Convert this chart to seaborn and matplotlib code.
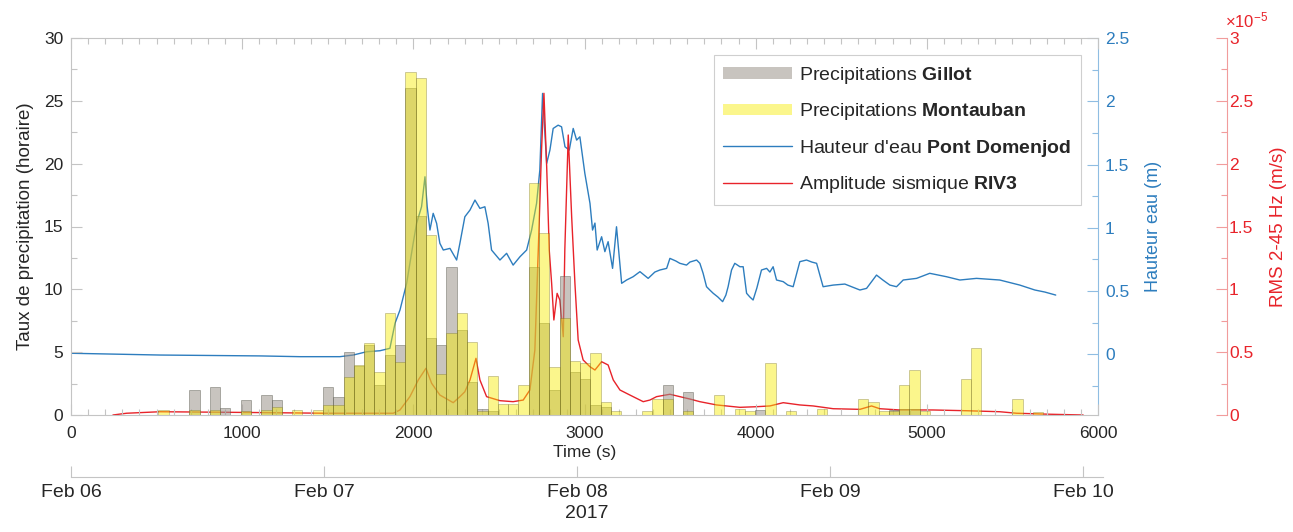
import datetime as dt
import numpy as np
import matplotlib
matplotlib.use("Agg")
import matplotlib.pyplot as plt
import matplotlib.dates as mdates
from matplotlib.ticker import MultipleLocator, FuncFormatter
from matplotlib.patches import Patch
from matplotlib.lines import Line2D
import seaborn as sns

# ---------------- data ----------------
# hourly rain-rate bars (hour index -> value)
hour_idx = np.arange(96)
HOUR_START = 30.0     # time of first hour boundary (s axis units)
HOUR_STEP = 60.1      # one hour in axis units

gillot = [0, 0, 0, 0, 0, 0, 0, 0, 0, 0,
          0, 2.0, 0, 2.2, 0.55, 0, 1.2, 0, 1.6, 1.2,
          0, 0, 0, 0, 2.2, 1.4, 5.0, 3.9, 5.6, 2.4,
          4.8, 5.6, 26.0, 15.8, 6.1, 5.6, 11.8, 6.8, 2.6, 0.5,
          0.3, 0, 0, 0, 11.8, 7.3, 2.0, 11.1, 3.4, 2.9,
          0.8, 0.6, 0, 0, 0, 0, 0, 2.4, 0, 1.86,
          0, 0, 0, 0, 0, 0, 0.4, 0, 0, 0,
          0, 0, 0, 0, 0, 0, 0, 0, 0, 0.4,
          0.5, 0.5, 0, 0, 0, 0, 0, 0, 0, 0,
          0, 0, 0, 0, 0, 0]
montauban = [0, 0, 0, 0, 0, 0, 0, 0, 0.4, 0,
             0, 0.4, 0, 0.4, 0, 0, 0.3, 0, 0.4, 0.6,
             0, 0.4, 0, 0.4, 0.8, 0.8, 3.05, 4.0, 5.75, 3.45,
             8.1, 4.2, 27.3, 26.8, 14.3, 3.3, 6.5, 8.1, 5.8, 0.3,
             3.1, 0.9, 0.9, 2.4, 18.5, 14.5, 3.85, 7.7, 4.3, 4.1,
             4.9, 1.06, 0.3, 0, 0, 0.3, 1.3, 1.3, 0, 0.3,
             0, 0, 1.6, 0, 0.5, 0.3, 0, 4.1, 0, 0.3,
             0, 0, 0.5, 0, 0, 0, 1.25, 1.0, 0.3, 0.3,
             2.4, 3.6, 0.3, 0, 0, 0, 2.85, 5.3, 0, 0,
             0, 1.25, 0, 0.2, 0, 0]

# water height, Pont Domenjod (m)
level_t = [0, 520, 1104, 1338, 1571, 1649, 1727, 1805, 1863, 1893,
           1922, 1961, 1999, 2019, 2048, 2068, 2081, 2097, 2116, 2136,
           2155, 2175, 2214, 2253, 2272, 2301, 2331, 2360, 2389, 2418,
           2437, 2457, 2506, 2545, 2583, 2623, 2662, 2691, 2720, 2739,
           2755, 2779, 2798, 2817, 2846, 2866, 2886, 2911, 2934, 2954,
           2973, 3002, 3032, 3047, 3061, 3074, 3100, 3119, 3138, 3164,
           3187, 3217, 3246, 3284, 3324, 3372, 3411, 3440, 3480, 3499,
           3534, 3557, 3596, 3616, 3655, 3674, 3693, 3713, 3732, 3752,
           3779, 3807, 3826, 3839, 3859, 3878, 3908, 3927, 3947, 3966,
           3985, 4007, 4034, 4064, 4083, 4102, 4122, 4161, 4188, 4219,
           4258, 4297, 4328, 4356, 4375, 4394, 4453, 4521, 4609, 4648,
           4706, 4743, 4784, 4823, 4862, 4940, 5017, 5115, 5193, 5290,
           5426, 5543, 5631, 5689, 5753]
level_m = [0.008, -0.006, -0.013, -0.019, -0.019, -0.006, 0.02, 0.028, 0.047, 0.245,
           0.35, 0.561, 0.877, 1.035, 1.166, 1.403, 1.166, 0.982, 1.114, 1.035,
           0.877, 0.824, 0.837, 0.745, 0.877, 1.087, 1.14, 1.219, 1.153, 1.166,
           1.035, 0.824, 0.745, 0.798, 0.705, 0.771, 0.824, 0.982, 1.193, 1.456,
           2.062, 1.509, 1.614, 1.785, 1.811, 1.798, 1.64, 1.614, 1.785, 1.693,
           1.719, 1.43, 1.193, 0.982, 1.037, 0.824, 0.929, 0.811, 0.89, 0.679,
           1.008, 0.561, 0.587, 0.613, 0.653, 0.6, 0.65, 0.666, 0.679, 0.758,
           0.737, 0.719, 0.705, 0.729, 0.745, 0.719, 0.64, 0.534, 0.508, 0.482,
           0.453, 0.416, 0.468, 0.534, 0.666, 0.719, 0.692, 0.692, 0.482, 0.453,
           0.429, 0.524, 0.666, 0.679, 0.65, 0.692, 0.587, 0.574, 0.547, 0.534,
           0.732, 0.745, 0.729, 0.719, 0.626, 0.534, 0.547, 0.555, 0.508, 0.521,
           0.626, 0.587, 0.547, 0.534, 0.587, 0.6, 0.64, 0.613, 0.587, 0.6,
           0.587, 0.547, 0.508, 0.492, 0.468]

# seismic amplitude RIV3, in units of 1e-5 m/s
rms_t = [245, 325, 520, 1046, 1494, 1883, 1922, 1980, 2029, 2074,
         2107, 2155, 2233, 2272, 2301, 2331, 2366, 2389, 2428, 2506,
         2583, 2642, 2681, 2710, 2730, 2749, 2763, 2779, 2794, 2808,
         2821, 2840, 2856, 2876, 2885, 2905, 2925, 2944, 2963, 2992,
         3032, 3061, 3100, 3138, 3168, 3207, 3265, 3343, 3382, 3421,
         3499, 3557, 3616, 3674, 3772, 3908, 4005, 4083, 4161, 4258,
         4336, 4453, 4609, 4677, 4725, 4842, 5035, 5232, 5426, 5524,
         5718, 5913]
rms_e5 = [0.0, 0.014, 0.026, 0.02, 0.014, 0.014, 0.04, 0.146, 0.279, 0.372,
          0.252, 0.159, 0.098, 0.146, 0.185, 0.279, 0.451, 0.279, 0.146, 0.114,
          0.106, 0.119, 0.199, 0.517, 1.313, 2.109, 2.56, 1.976, 1.313, 1.048,
          0.756, 0.968, 0.915, 0.623, 1.313, 2.228, 1.578, 1.048, 0.597, 0.438,
          0.384, 0.358, 0.424, 0.398, 0.279, 0.199, 0.159, 0.106, 0.119, 0.146,
          0.165, 0.146, 0.127, 0.106, 0.08, 0.061, 0.066, 0.072, 0.098, 0.08,
          0.072, 0.05, 0.045, 0.072, 0.05, 0.04, 0.04, 0.034, 0.026, 0.014,
          0.006, 0.0]

date_labels_start = dt.datetime(2017, 2, 6)
legend_labels = [r"Precipitations $\mathbf{Gillot}$",
                 r"Precipitations $\mathbf{Montauban}$",
                 r"Hauteur d'eau $\mathbf{Pont\ Domenjod}$",
                 r"Amplitude sismique $\mathbf{RIV3}$"]

# ---------------- style ----------------
sns.set_style("ticks")
plt.rcParams['font.family'] = ['Liberation Sans', 'DejaVu Sans']
plt.rcParams['mathtext.fontset'] = 'custom'
plt.rcParams['mathtext.rm'] = 'Liberation Sans'
plt.rcParams['mathtext.bf'] = 'Liberation Sans:bold'
plt.rcParams['mathtext.it'] = 'Liberation Sans:italic'

TXT = '#262626'
AXC = '#c4c4c4'
BLUE = '#2d7dbe'
BLUE_AX = '#8fbde2'
RED = '#e8232a'
RED_AX = '#f19c9c'
GRAY = '#9c948c'
YELLOW = '#f7ec00'

W, H = 1293, 532
fig = plt.figure(figsize=(W / 100, H / 100), dpi=100)
fig.patch.set_facecolor('white')
L, R, T, B = 71, 1098, 38, 415
ax = fig.add_axes([L / W, (H - B) / H, (R - L) / W, (B - T) / H])
ax_h = ax.twinx()
ax_r = ax.twinx()

# ---------------- lines ----------------
sns.lineplot(x=level_t, y=level_m, ax=ax_h, color=BLUE, lw=1.0,
             estimator=None, sort=False)
sns.lineplot(x=rms_t, y=rms_e5, ax=ax_r, color=RED, lw=1.0,
             estimator=None, sort=False)

# ---------------- bars ----------------
bar_t = HOUR_START + (hour_idx + 0.5) * HOUR_STEP
g = np.array(gillot, dtype=float)
m = np.array(montauban, dtype=float)
sns.barplot(x=bar_t[g > 0], y=g[g > 0], native_scale=True, width=1.0,
            color=GRAY, saturation=1, alpha=0.55, edgecolor='#4a4a40',
            linewidth=0.5, errorbar=None, ax=ax)
sns.barplot(x=bar_t[m > 0], y=m[m > 0], native_scale=True, width=1.0,
            color=YELLOW, saturation=1, alpha=0.45, edgecolor='#6a6420',
            linewidth=0.5, errorbar=None, ax=ax)

ax.set_zorder(3)
ax.patch.set_visible(False)

# ---------------- main axes ----------------
ax.set_xlim(0, 6000)
ax.set_ylim(0, 30)
ax.xaxis.set_major_locator(MultipleLocator(1000))
ax.xaxis.set_minor_locator(MultipleLocator(100))
ax.yaxis.set_major_locator(MultipleLocator(5))
ax.yaxis.set_minor_locator(MultipleLocator(2.5))
ax.xaxis.set_major_formatter(FuncFormatter(lambda v, p: f"{v:g}"))
for s in ['left', 'top', 'bottom']:
    ax.spines[s].set_color(AXC)
    ax.spines[s].set_linewidth(0.8)
ax.spines['right'].set_visible(False)
ax.tick_params(axis='x', which='both', direction='in', top=True, bottom=True,
               color=AXC, labelcolor=TXT, labelsize=12.5, pad=8, width=0.8)
ax.tick_params(axis='y', which='both', direction='in', left=True, right=False,
               color=AXC, labelcolor=TXT, labelsize=12.5, pad=5.5, width=0.8)
ax.tick_params(which='major', length=8)
ax.tick_params(which='minor', length=4.5)
ax.set_xlabel('Time (s)', fontsize=12.5, color=TXT, labelpad=3)
ax.set_ylabel('Taux de precipitation (horaire)', fontsize=13.5, color=TXT, labelpad=7)

# ---------------- water height axis ----------------
ax_h.set_ylim(-0.48, 2.5)
ax_h.yaxis.set_major_locator(MultipleLocator(0.5))
ax_h.yaxis.set_minor_locator(MultipleLocator(0.25))
ax_h.yaxis.set_major_formatter(FuncFormatter(lambda v, p: f"{v:g}"))
for s in ['left', 'top', 'bottom']:
    ax_h.spines[s].set_visible(False)
ax_h.spines['right'].set_color(BLUE_AX)
ax_h.spines['right'].set_linewidth(0.8)
ax_h.tick_params(axis='y', which='both', direction='in', right=True, left=False,
                 color=BLUE_AX, labelcolor=BLUE, labelsize=12.5, pad=5, width=0.8)
ax_h.tick_params(axis='y', which='major', length=8)
ax_h.tick_params(axis='y', which='minor', length=4.5)
ax_h.set_ylabel('Hauteur eau (m)', fontsize=13, color=BLUE, labelpad=11)
ax_h.set_xlim(0, 6000)

# ---------------- seismic axis ----------------
ax_r.set_ylim(0, 3)
ax_r.yaxis.set_major_locator(MultipleLocator(0.5))
ax_r.yaxis.set_minor_locator(MultipleLocator(0.25))
ax_r.yaxis.set_major_formatter(FuncFormatter(lambda v, p: f"{v:g}"))
for s in ['left', 'top', 'bottom']:
    ax_r.spines[s].set_visible(False)
ax_r.spines['right'].set_position(('axes', 1 + 129 / (R - L)))
ax_r.spines['right'].set_color(RED_AX)
ax_r.spines['right'].set_linewidth(0.8)
ax_r.tick_params(axis='y', which='both', direction='in', right=True, left=False,
                 color=RED_AX, labelcolor=RED, labelsize=12.5, pad=1.5, width=0.8)
ax_r.tick_params(axis='y', which='major', length=8)
ax_r.tick_params(axis='y', which='minor', length=4.5)
ax_r.set_ylabel('RMS 2-45 Hz (m/s)', fontsize=13.5, color=RED, labelpad=12)
ax_r.set_xlim(0, 6000)
fig.text(1225 / W, (H - 27) / H, '×10$^{-5}$', color=RED, fontsize=12,
         ha='left', va='baseline')

# ---------------- legend ----------------
handles = [Patch(facecolor=GRAY, alpha=0.55, edgecolor='none'),
           Patch(facecolor=YELLOW, alpha=0.45, edgecolor='none'),
           Line2D([], [], color=BLUE, lw=1.0),
           Line2D([], [], color=RED, lw=1.0)]
leg = ax.legend(handles, legend_labels, loc='upper right',
                bbox_to_anchor=(1 - 17 / (R - L), 1 - 17 / (B - T)),
                borderaxespad=0, frameon=True, fancybox=False, framealpha=1,
                edgecolor='#cfcfcf', fontsize=14, handlelength=3.5,
                handleheight=0.55, handletextpad=0.4, labelspacing=0.8,
                borderpad=0.5)
leg.get_frame().set_linewidth(0.8)
for t in leg.get_texts():
    t.set_color(TXT)

# ---------------- date axis ----------------
ax_d = fig.add_axes([L / W, 55 / H, 1032 / W, 0.0001])
d0 = mdates.date2num(date_labels_start)
ax_d.set_xlim(d0, d0 + 1032 / 253)
ax_d.set_yticks([])
ax_d.xaxis.set_major_locator(mdates.DayLocator())
ax_d.xaxis.set_major_formatter(mdates.DateFormatter('%b %d'))
for s in ['left', 'top', 'right']:
    ax_d.spines[s].set_visible(False)
ax_d.spines['bottom'].set_color(AXC)
ax_d.spines['bottom'].set_linewidth(0.8)
ax_d.patch.set_visible(False)
ax_d.tick_params(axis='x', direction='in', length=8, width=0.8, color=AXC,
                 labelcolor=TXT, labelsize=14, pad=5)
ax_d.set_xlabel('2017', fontsize=14, color=TXT, labelpad=3)

fig.savefig('out.png', dpi=100, facecolor='white')
